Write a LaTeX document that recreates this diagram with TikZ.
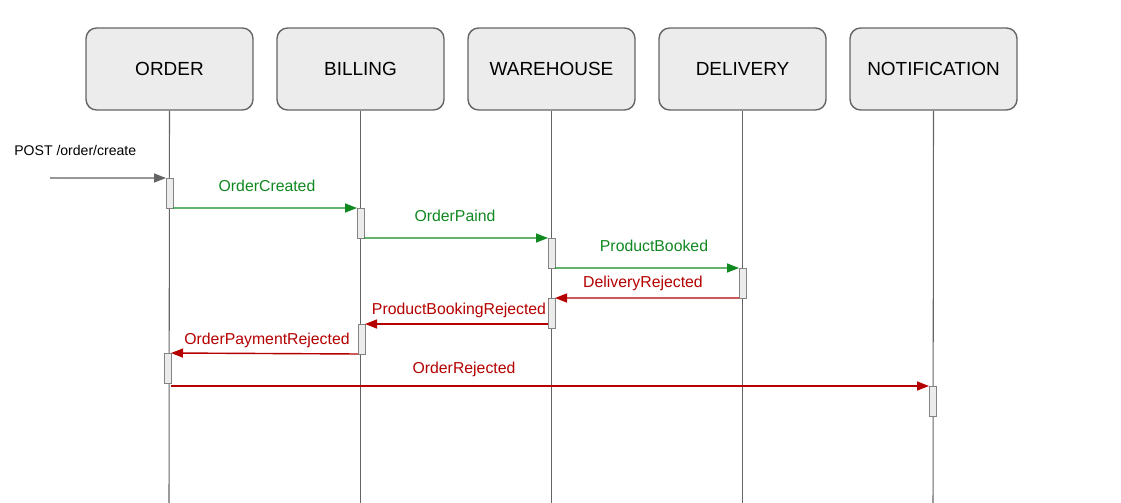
\documentclass[tikz,border=0pt]{standalone}
\usepackage{fontspec}
\setmainfont{Liberation Sans}
\usepackage{tikz}
\usetikzlibrary{arrows.meta, positioning}
\definecolor{okgreen}{RGB}{16,136,32}
\definecolor{errred}{RGB}{180,0,0}
\definecolor{boxgray}{RGB}{236,236,236}
\definecolor{linegray}{RGB}{100,100,100}
\tikzset{
  service/.style={draw=linegray, fill=boxgray, line width=0.8pt, rounded corners=6pt,
    minimum width=3.34cm, minimum height=1.64cm, inner sep=0pt, font=\fontsize{10.8}{12}\selectfont},
  lifeline/.style={draw=linegray, line width=0.6pt},
  activation/.style={draw=linegray!80, fill=boxgray, line width=0.55pt, outer sep=0pt,
    minimum width=0.14cm, minimum height=0.6cm, inner sep=0pt},
  msg/.style={line width=0.8pt, -{Triangle[length=0.24cm, width=0.18cm]}},
  msglabel/.style={inner sep=0pt, font=\fontsize{9}{10}\selectfont},
}
\newcommand\lifeline[2]{\coordinate (#1end) at (#2,503);\draw[lifeline] (#1.south) -- (#1end);}
\begin{document}
\begin{tikzpicture}[x=0.02cm, y=-0.02cm]
\useasboundingbox (0,0) rectangle (1121,503);
% services
\node[service] (order) at (169.5,69) {ORDER};
\node[service] (billing) at (360.5,69) {BILLING};
\node[service] (warehouse) at (551.5,69) {WAREHOUSE};
\node[service] (delivery) at (742.5,69) {DELIVERY};
\node[service] (notification) at (933.5,69) {NOTIFICATION};
\lifeline{order}{169}
\lifeline{billing}{360.5}
\lifeline{warehouse}{551.5}
\lifeline{delivery}{742.5}
\lifeline{notification}{933}

% activations
\node[activation] (oa1) at (169.5,193) {};
\node[activation] (ba1) at (360.5,223) {};
\node[activation] (wa1) at (551.5,253) {};
\node[activation] (da1) at (742.5,283) {};
\node[activation] (wa2) at (551.5,313) {};
\node[activation] (ba2) at (361.5,339) {};
\node[activation] (oa2) at (167.5,368) {};
\node[activation] (na1) at (932.5,401) {};

% messages
\coordinate (client) at (50,178);
\node[msglabel, anchor=west, font=\fontsize{8}{10}\selectfont] (lpost) at (14,150) {POST /order/create};
\draw[msg, draw=linegray, fill=linegray] (client) -- (oa1.north west);

\draw[msg, okgreen] (oa1.south east) -- (ba1.north west);
\node[msglabel, text=okgreen] (lcreated) at (267,186) {OrderCreated};
\draw[msg, okgreen] (ba1.south east) -- (wa1.north west);
\node[msglabel, text=okgreen] (lpaid) at (455,216) {OrderPaind};
\draw[msg, okgreen] (wa1.south east) -- (da1.north west);
\node[msglabel, text=okgreen] (lbooked) at (654,246) {ProductBooked};

\draw[msg, errred] (da1.south west) -- (wa2.north east);
\node[msglabel, text=errred] (ldelrej) at (643,283) {DeliveryRejected};
\draw[msg, errred] (wa2.west |- ba2.north) -- (ba2.north east);
\node[msglabel, text=errred] (lbookrej) at (459,310) {ProductBookingRejected};
\draw[msg, errred] (ba2.south west) -- (oa2.north east);
\node[msglabel, text=errred] (lpayrej) at (267,340) {OrderPaymentRejected};
\draw[msg, errred] (oa2.east |- na1.north) -- (na1.north west);
\node[msglabel, text=errred] (lordrej) at (464,369) {OrderRejected};
\end{tikzpicture}
\end{document}
